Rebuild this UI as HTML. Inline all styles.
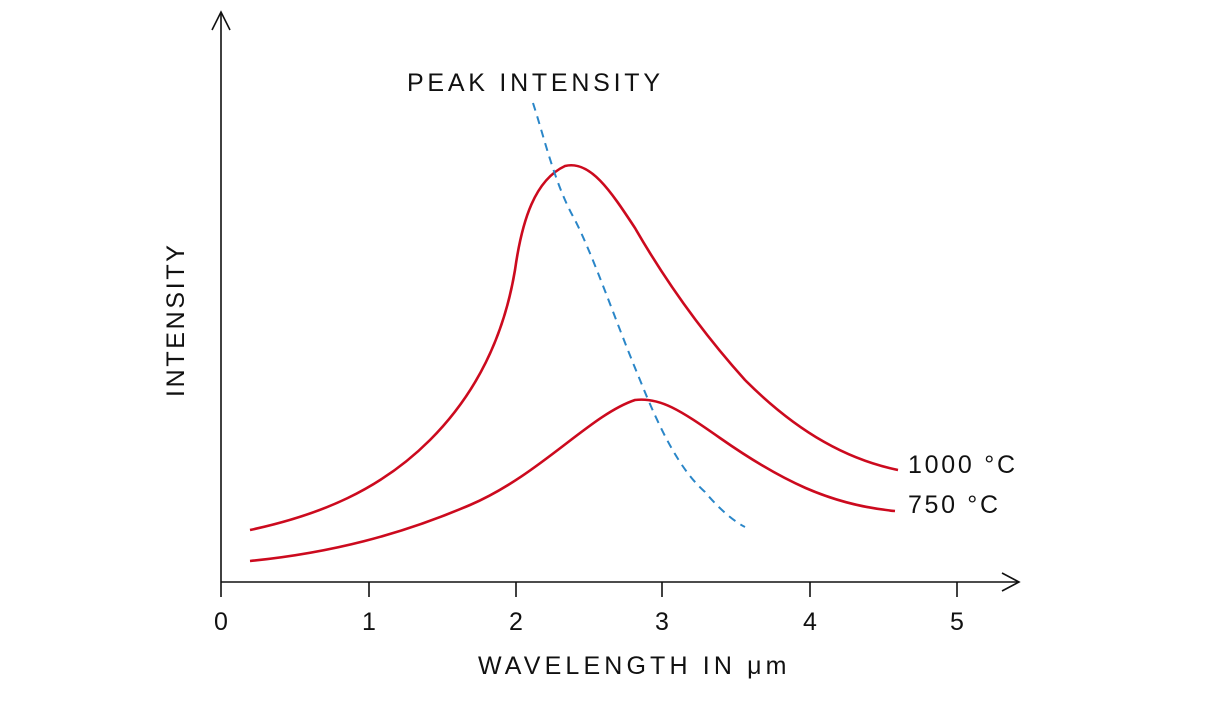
<!DOCTYPE html>
<html><head><meta charset="utf-8"><style>
html,body{margin:0;padding:0;background:#fff;width:1226px;height:713px;overflow:hidden}
text{font-family:"Liberation Sans",sans-serif;fill:#111}
</style></head><body>
<svg width="1226" height="713" viewBox="0 0 1226 713">
<g stroke="#111" stroke-width="1.6" fill="none">
<line x1="221" y1="13" x2="221" y2="582"/>
<polyline points="212,30 221,12 230,30"/>
<line x1="221" y1="582" x2="1018" y2="582"/>
<polyline points="1002,573 1019,582 1002,591"/>
<line x1="221" y1="582" x2="221" y2="597"/>
<line x1="369" y1="582" x2="369" y2="597"/>
<line x1="516" y1="582" x2="516" y2="597"/>
<line x1="662" y1="582" x2="662" y2="597"/>
<line x1="810" y1="582" x2="810" y2="597"/>
<line x1="957" y1="582" x2="957" y2="597"/>
</g>
<g font-size="25" text-anchor="middle">
<text x="221" y="630">0</text><text x="369" y="630">1</text><text x="516" y="630">2</text>
<text x="662" y="630">3</text><text x="810" y="630">4</text><text x="957" y="630">5</text>
</g>
<text x="478" y="674" font-size="25" letter-spacing="1.5" textLength="310" lengthAdjust="spacing">WAVELENGTH  IN μm</text>
<text x="407" y="91" font-size="25" textLength="253" lengthAdjust="spacing">PEAK  INTENSITY</text>
<text transform="translate(184,397) rotate(-90)" font-size="25" textLength="152" lengthAdjust="spacing">INTENSITY</text>
<text x="908" y="473" font-size="25" textLength="107" lengthAdjust="spacing">1000 °C</text>
<text x="908" y="513" font-size="25" textLength="90" lengthAdjust="spacing">750 °C</text>
<g fill="none" stroke="#cc0a1e" stroke-width="2.6">
<path d="M250,530 C320,515 380,490 430,440 C480,390 505,330 515,270 C522,220 535,180 565,166 C590,160 610,190 635,228 C665,280 700,330 745,380 C800,435 850,460 898,470"/>
<path d="M250,561 C330,553 400,535 470,505 C540,475 590,415 635,400 C660,397 680,410 720,438 C780,480 830,505 895,511"/>
</g>
<path d="M533,103 C545,140 555,185 575,220 C595,260 615,320 640,380 C660,430 680,470 705,492 C720,510 735,522 745,527" fill="none" stroke="#2a86c8" stroke-width="2" stroke-dasharray="8,6"/>
</svg>
</body></html>
